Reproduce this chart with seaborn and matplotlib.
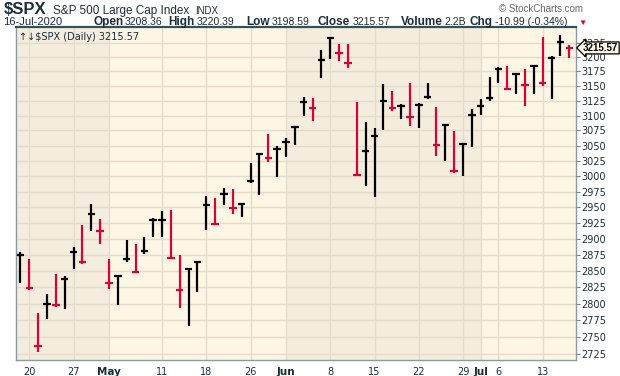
import numpy as np
import pandas as pd
import matplotlib
matplotlib.use("Agg")
import matplotlib.pyplot as plt
from matplotlib.ticker import FixedLocator, FixedFormatter, NullLocator
import seaborn as sns

# ---------------- data ----------------
dates = ["2020-04-17", "2020-04-20", "2020-04-21", "2020-04-22", "2020-04-23", "2020-04-24",
         "2020-04-27", "2020-04-28", "2020-04-29", "2020-04-30", "2020-05-01", "2020-05-04",
         "2020-05-05", "2020-05-06", "2020-05-07", "2020-05-08", "2020-05-11", "2020-05-12",
         "2020-05-13", "2020-05-14", "2020-05-15", "2020-05-18", "2020-05-19", "2020-05-20",
         "2020-05-21", "2020-05-22", "2020-05-26", "2020-05-27", "2020-05-28", "2020-05-29",
         "2020-06-01", "2020-06-02", "2020-06-03", "2020-06-04", "2020-06-05", "2020-06-08",
         "2020-06-09", "2020-06-10", "2020-06-11", "2020-06-12", "2020-06-15", "2020-06-16",
         "2020-06-17", "2020-06-18", "2020-06-19", "2020-06-22", "2020-06-23", "2020-06-24",
         "2020-06-25", "2020-06-26", "2020-06-29", "2020-06-30", "2020-07-01", "2020-07-02",
         "2020-07-06", "2020-07-07", "2020-07-08", "2020-07-09", "2020-07-10", "2020-07-13",
         "2020-07-14", "2020-07-15", "2020-07-16"]
highs = [2879.22, 2868.98, 2785.54, 2815.10, 2844.90, 2842.71, 2887.72, 2921.15, 2954.86, 2930.91,
         2869.09, 2844.24, 2898.23, 2891.11, 2901.92, 2932.16, 2944.25, 2945.82, 2874.14, 2852.80,
         2865.01, 2968.09, 2964.21, 2980.29, 2978.50, 2956.76, 3021.72, 3036.25, 3068.67, 3049.17,
         3062.18, 3081.07, 3130.94, 3128.91, 3211.72, 3233.13, 3222.71, 3223.27, 3123.53, 3088.42,
         3079.76, 3153.45, 3141.16, 3120.00, 3155.53, 3120.92, 3154.90, 3115.01, 3086.25, 3073.73,
         3053.89, 3111.51, 3128.44, 3165.81, 3182.59, 3184.15, 3171.80, 3179.78, 3186.82, 3235.32,
         3200.95, 3238.28, 3220.39]
lows = [2830.88, 2820.43, 2727.10, 2775.95, 2794.26, 2791.76, 2852.89, 2860.71, 2912.16, 2892.47,
        2821.61, 2797.85, 2863.55, 2847.65, 2876.48, 2902.88, 2903.44, 2869.59, 2793.15, 2766.64,
        2816.78, 2913.86, 2922.35, 2953.63, 2938.57, 2933.59, 2988.17, 2969.75, 3023.40, 2998.61,
        3031.54, 3051.64, 3098.90, 3090.41, 3163.84, 3196.00, 3193.11, 3181.49, 2999.49, 2984.47,
        2965.66, 3076.06, 3108.03, 3093.51, 3083.11, 3079.39, 3127.12, 3032.13, 3024.01, 3004.63,
        2999.74, 3047.83, 3101.17, 3124.52, 3155.29, 3142.93, 3136.53, 3115.70, 3136.22, 3149.43,
        3127.66, 3200.76, 3198.59]
closes = [2874.56, 2823.16, 2736.56, 2799.31, 2797.80, 2836.74, 2878.48, 2863.39, 2939.51, 2912.43,
          2830.71, 2842.74, 2868.44, 2848.42, 2881.19, 2929.80, 2930.19, 2870.12, 2820.00, 2852.50,
          2863.70, 2953.91, 2922.94, 2971.61, 2948.51, 2955.45, 2991.77, 3036.13, 3029.73, 3044.31,
          3055.73, 3080.82, 3122.87, 3112.35, 3193.93, 3232.39, 3207.18, 3190.14, 3002.10, 3041.31,
          3066.59, 3124.74, 3113.49, 3115.34, 3097.74, 3117.86, 3131.29, 3050.33, 3083.76, 3009.05,
          3053.24, 3100.29, 3115.86, 3130.01, 3179.72, 3145.32, 3169.94, 3152.05, 3185.04, 3155.22,
          3197.52, 3226.56, 3215.57]
prior_close = 2799.55

# header quote for the last session
last_date = "16-Jul-2020"
last_open = 3208.36
last_high = 3220.39
last_low = 3198.59
last_volume = "2.2B"

tick_dates = ["2020-04-20", "2020-04-27", "2020-05-01", "2020-05-11", "2020-05-18", "2020-05-26",
              "2020-06-01", "2020-06-08", "2020-06-15", "2020-06-22", "2020-06-29", "2020-07-01",
              "2020-07-06", "2020-07-13"]
tick_labels = ["20", "27", "May", "11", "18", "26", "Jun", "8", "15", "22", "29", "Jul", "6", "13"]
month_labels = {"May", "Jun", "Jul"}
y_ticks = [2725, 2750, 2775, 2800, 2825, 2850, 2875, 2900, 2925, 2950, 2975, 3000, 3025, 3050,
           3075, 3100, 3125, 3150, 3175, 3200, 3225]

# ---------------- styling ----------------
RED = "#D4043A"
UP = "#000000"
BG_LIGHT = "#FDF6E4"
BG_DARK = "#F4EDDE"
GRID = "#E3DBCB"
TXT = "#1B2E3A"
HF = ["Liberation Sans", "DejaVu Sans"]

sns.set_theme(style="white", rc={"axes.facecolor": BG_LIGHT})
plt.rcParams["font.family"] = ["DejaVu Sans"]

df = pd.DataFrame({"date": pd.to_datetime(dates), "high": highs, "low": lows, "close": closes})
df["i"] = np.arange(len(df))
df["prev"] = [prior_close] + closes[:-1]
df["color"] = np.where(df["close"] >= df["prev"], UP, RED)

W, H = 620, 376
fig = plt.figure(figsize=(W / 100, H / 100), dpi=100)
ax = fig.add_axes([16 / W, 16 / H, (576 - 16) / W, (360 - 27) / H])
ax.set_facecolor(BG_LIGHT)

ax.set_yscale("log")
ax.set_ylim(2715.7, 3252.2)
ax.set_xlim(-0.5, 62.76)

# alternating month shading
month_key = df["date"].dt.to_period("M")
starts = df.groupby(month_key)["i"].min().tolist()
bounds = [-0.5] + starts[1:] + [62.76]
for k in range(len(bounds) - 1):
    if k % 2 == 0:
        ax.axvspan(bounds[k], bounds[k + 1], color=BG_DARK, lw=0, zorder=0)

# ticks / grid
date_to_i = dict(zip(dates, df["i"]))
xt = [date_to_i[d] for d in tick_dates]
ax.xaxis.set_major_locator(FixedLocator(xt))
ax.xaxis.set_major_formatter(FixedFormatter(tick_labels))
ax.xaxis.set_minor_locator(FixedLocator(df["i"].tolist()))
ax.yaxis.set_major_locator(FixedLocator(y_ticks))
ax.yaxis.set_major_formatter(FixedFormatter([str(v) for v in y_ticks]))
ax.yaxis.set_minor_locator(NullLocator())
ax.yaxis.tick_right()

ax.grid(True, which="major", color=GRID, lw=1.0, zorder=1)
ax.set_axisbelow(True)
ax.tick_params(axis="y", which="major", length=3, width=0.8, color="#6F7F88",
               labelsize=7, labelcolor=TXT, pad=1)
ax.tick_params(axis="x", which="major", length=3, width=0.8, color="#6F7F88",
               labelsize=7, labelcolor=TXT, pad=2)
ax.tick_params(axis="x", which="minor", length=2, width=0.6, color="#6F7F88")
for lab in ax.get_xticklabels():
    if lab.get_text() in month_labels:
        lab.set_fontweight("bold")
        lab.set_fontsize(7.5)

for s in ["left", "right", "bottom"]:
    ax.spines[s].set_color("#8A9AA3")
    ax.spines[s].set_linewidth(1.0)
ax.spines["top"].set_color("#33505C")
ax.spines["top"].set_linewidth(1.6)

# HLC bars: high-low line with a close cross-tick
lw = 1.6
tk = 0.42
ax.vlines(df["i"], df["low"], df["high"], colors=df["color"], lw=lw, zorder=3)
ax.hlines(df["close"], df["i"] - tk, df["i"] + tk, colors=df["color"], lw=lw, zorder=3)

# last price tag
last = closes[-1]
ax.annotate(f"{last:.2f}", xy=(1.0, last), xycoords=("axes fraction", "data"),
            xytext=(5, 0), textcoords="offset points", ha="left", va="center",
            fontsize=7, fontweight="bold", color="black", family=HF,
            bbox=dict(boxstyle="larrow,pad=0.1", fc=BG_LIGHT, ec="black", lw=0.9),
            annotation_clip=False, zorder=6)

# in-plot legend
ax.text(0.005, 0.985, f"↑↓$SPX (Daily) {last:.2f}",
        transform=ax.transAxes, ha="left", va="top", fontsize=7, color=TXT, zorder=6)

# ---------------- header ----------------
def ft(x, y, s, **kw):
    return fig.text(x / W, 1 - y / H, s, va="baseline", family=HF, **kw)

ft(4, 14.5, "$SPX", fontsize=12, fontweight="bold", color=TXT)
ft(53, 14, "S&P 500 Large Cap Index", fontsize=8.5, color=TXT)
ft(195, 14, "INDX", fontsize=7, color=TXT)
ft(583, 12.5, "© StockCharts.com", fontsize=7, color="#666666", ha="right")

chg = last - closes[-2]
pct = chg / closes[-2] * 100
BASE2 = 25
ft(3, BASE2, last_date, fontsize=8, color=TXT)
parts = [(93, "Open", f"{last_open:.2f}"), (168, "High", f"{last_high:.2f}"),
         (246, "Low", f"{last_low:.2f}"), (318, "Close", f"{last:.2f}"),
         (401, "Volume", last_volume), (470, "Chg", f"{chg:.2f} ({pct:.2f}%)")]
fig.canvas.draw()
rend = fig.canvas.get_renderer()
for x, lbl, val in parts:
    t = ft(x, BASE2, lbl, fontsize=8.5, fontweight="bold", color=TXT)
    bb = t.get_window_extent(renderer=rend)
    fig.text((bb.x1 + 2) / W, 1 - BASE2 / H, val, fontsize=7.5, color=TXT,
             va="baseline", family=HF)
ft(578, BASE2, "▼", fontsize=6, color=RED)

fig.savefig("out.png", dpi=100, facecolor="white")
